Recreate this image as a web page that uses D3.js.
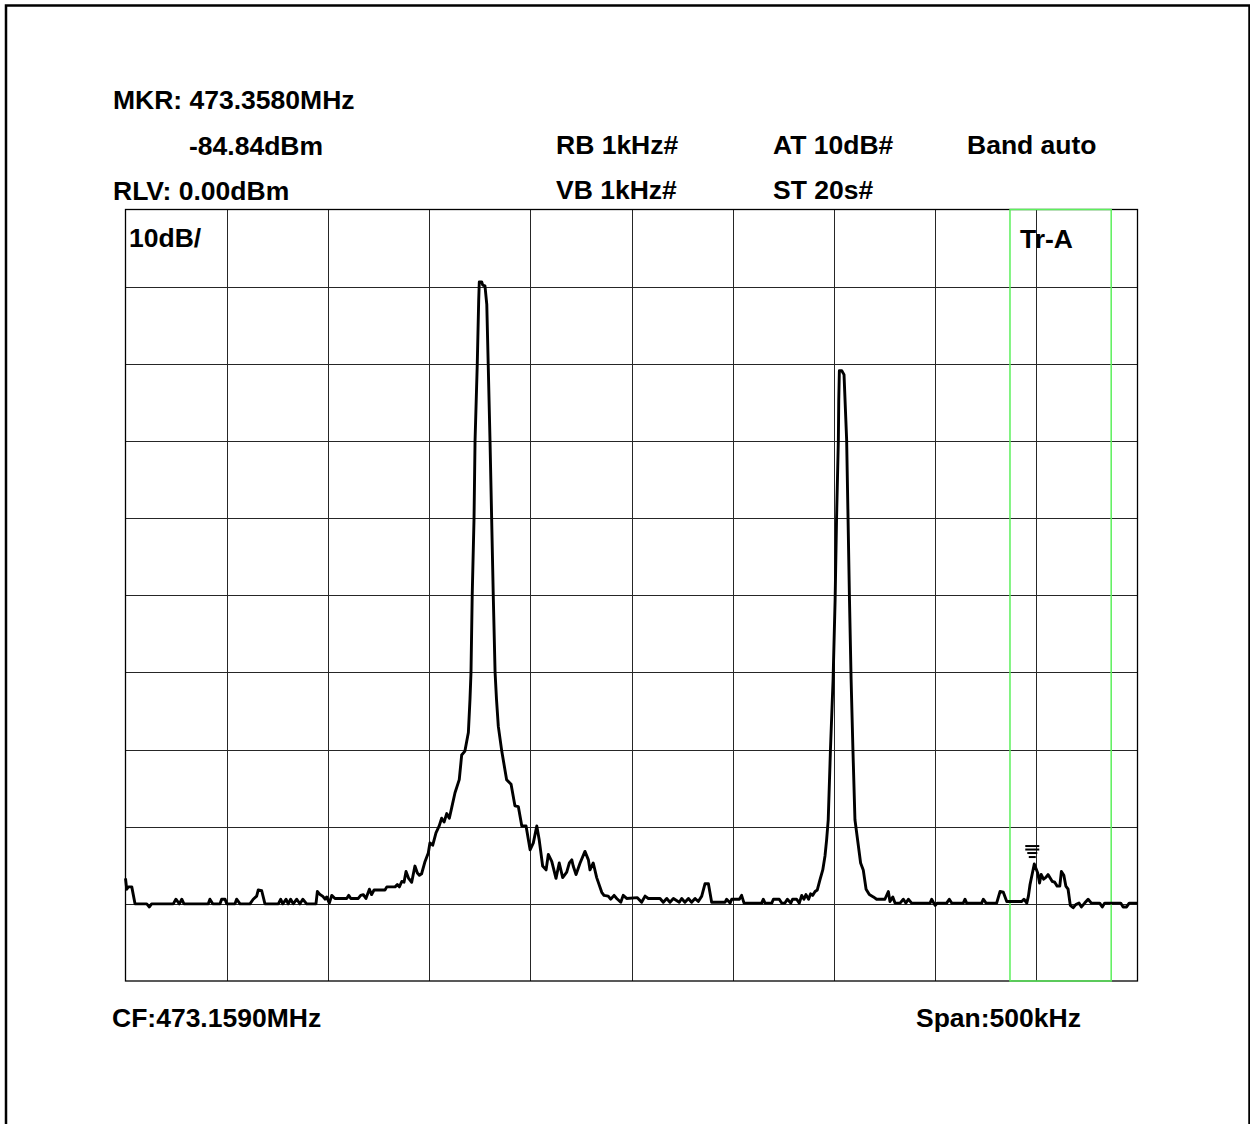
<!DOCTYPE html>
<html>
<head>
<meta charset="utf-8">
<script src="https://cdn.jsdelivr.net/npm/d3@7"></script>
<style>
  html, body { margin: 0; padding: 0; background: #fff; }
  svg { display: block; }
  text { font-family: "Liberation Sans", Arial, Helvetica, sans-serif; font-weight: bold; font-size: 26.5px; fill: #000; }
</style>
</head>
<body>
<svg id="chart" width="1250" height="1124"></svg>
<script>
// Sweep settings
const centerMHz = 473.159;
const spanKHz = 500;
const refLevelDbm = 0;
const dbPerDiv = 10;
const xDivisions = 10;
const yDivisions = 10;

// Marker readout
const markerMHz = 473.3580;
const markerDbm = -84.84;

// Band window (kHz from sweep start)
const bandKHz = [437, 487];

// Header / footer labels
const headerLeft = ["MKR: 473.3580MHz", "-84.84dBm", "RLV: 0.00dBm"];
const headerMid = ["RB 1kHz#", "VB 1kHz#"];
const headerRight = ["AT 10dB#", "ST 20s#"];
const bandLabel = "Band auto";
const scaleLabel = "10dB/";
const traceLabel = "Tr-A";
const footerLeft = "CF:473.1590MHz";
const footerRight = "Span:500kHz";

// Trace A vertices: frequency (kHz from sweep start) and level (dBm)
const traceKHz = [
  0, 0.6, 1.4, 3.1, 4.7, 10.5, 11.8, 12.9, 23.6, 24.9, 26.6, 27.8, 28.9, 40.9, 41.7, 43.1,
  46.7, 47.5, 49.2, 50, 54.1, 54.9, 56.6, 61.5, 63.1, 64.8, 65.6, 67.3, 68.9, 75.5, 76.7, 77.7,
  79.3, 80.4, 81.6, 82.9, 84.6, 86.2, 87.6, 89.5, 94.1, 94.8, 96.1, 97.4, 98.6, 99.4, 100.7, 101.9,
  103.5, 109.3, 110.3, 111.3, 115, 116.2, 117.5, 118.8, 120.5, 121.6, 122.8, 128.2, 129.1, 133.2,
  134.3, 135.3, 136.5, 137.6, 138.6, 139.9, 141.4, 143, 144.2, 145.2, 146.3, 148, 149.6, 150.4,
  151.8, 153.4, 155, 156.2, 157.4, 158.7, 160, 161.2, 162.8, 164.9, 166.1, 167.7, 169.4, 170.2,
  170.7, 171.3, 172.2, 172.7, 173.8, 174.5, 174.8, 176, 176.5, 177.6, 178.5, 179.2, 180.1, 180.9,
  181.7, 182.6, 183.3, 184.2, 185.9, 188.3, 190.5, 192.4, 194.1, 195.8, 197.9, 199.9, 201.5, 203.2,
  204.4, 206.1, 207.8, 208.9, 210.6, 212.7, 214.3, 216, 218, 219.3, 220.5, 221.2, 222.6, 224.6,
  227, 228.7, 229.5, 231.1, 232.8, 235.3, 236.4, 238.5, 239.7, 241.4, 242.7, 244.7, 245.9, 247.6,
  252.9, 255, 256.7, 258.3, 264.1, 265.7, 267.4, 269, 270.7, 273.6, 274.8, 276.4, 278.1, 279.7,
  281.4, 283, 284.7, 286.3, 288, 289.6, 296.2, 297, 298.7, 299.5, 303.3, 304.4, 305.6, 314.3,
  315.1, 316, 319.3, 320.1, 323, 324.2, 325.8, 327, 328.7, 329.6, 331.6, 332.9, 334.1, 335.2,
  336.2, 337.5, 338.5, 339.5, 340.7, 341.8, 343.1, 344.5, 345.6, 346.4, 347.2, 348.3, 349.6, 350.6,
  351.3, 352.2, 352.4, 352.7, 353.9, 355, 356.3, 357, 357.7, 358.5, 359.4, 360.4, 362.1, 363.2,
  364.5, 365.9, 367.5, 369.5, 371.1, 375.2, 376.9, 377.7, 379.1, 380.2, 382.7, 384.3, 385.6, 386.8,
  388.4, 397.5, 398.3, 400, 401.1, 405.7, 407, 408.2, 413.9, 414.8, 415.6, 423, 423.8, 425.2,
  430.4, 432.1, 433.7, 435.4, 437, 442.8, 443.9, 445.3, 446.1, 446.9, 449, 450.7, 451.6, 452.4,
  453.6, 454.6, 455.8, 457.9, 459.1, 460.3, 461.6, 462.4, 463.6, 464.6, 465.7, 466.8, 468.2, 469.5,
  471.1, 472.3, 473.9, 475.6, 477.2, 481.3, 482.6, 483.8, 491.7, 492.9, 494.6, 495.9, 500
];
const traceDbm = [
  -86.7, -88.1, -87.8, -87.8, -90, -90, -90.4, -90, -90, -89.4, -90, -89.4, -90, -90, -89.4, -90,
  -90, -89.4, -89.4, -90, -90, -89.4, -90, -90, -89.4, -89, -88.2, -88.3, -90, -90, -89.4, -90,
  -89.4, -90, -89.4, -90, -89.4, -90, -89.4, -90, -90, -88.4, -88.8, -89, -89.4, -89.1, -89.9, -88.9,
  -89.3, -89.3, -88.9, -89.3, -89.3, -88.9, -88.8, -89.3, -88.1, -88.8, -88.2, -88.2, -87.8, -87.8,
  -87.5, -87.8, -87.1, -87.2, -85.8, -86.7, -87.2, -85.1, -86, -86.3, -86.1, -84.5, -83.4, -82.1,
  -82.4, -80.8, -79.9, -78.9, -79.4, -78.3, -78.9, -77.5, -75.6, -73.9, -70.7, -70.2, -67.8, -63.5,
  -60, -50, -40, -30, -20, -11.8, -9.4, -9.4, -9.8, -9.9, -12.3, -20, -30, -40,
  -50, -60, -63.5, -67, -70.2, -73.9, -74.5, -77.3, -77.4, -79.9, -79.9, -83, -82.1, -79.9,
  -81.7, -85.1, -85.6, -83.6, -84.5, -86.7, -84.7, -86.6, -85.9, -84.7, -84.3, -85.1, -86.2, -84.7,
  -83.2, -84.3, -85.6, -84.7, -86.6, -88.5, -88.9, -89, -89.4, -88.9, -89.3, -89.8, -88.9, -89.3,
  -89.2, -89.8, -89, -89.3, -89.3, -89.8, -89.3, -89.8, -89.3, -89.8, -89.3, -89.8, -89.3, -89.8,
  -89.3, -89.7, -89, -87.4, -87.4, -89.8, -89.8, -89.4, -89.9, -89.4, -89.4, -88.9, -89.9, -89.9,
  -89.4, -89.9, -89.9, -89.4, -89.4, -89.9, -89.9, -89.4, -89.9, -89.4, -89.4, -89.9, -88.9, -89.4,
  -88.8, -89.4, -88.7, -88.9, -88.4, -88.2, -86.9, -85.6, -83.8, -81.7, -79.1, -70, -60.9, -50.6,
  -40.2, -29.9, -24.7, -20.9, -20.9, -21.4, -29.9, -40.2, -50.6, -60.9, -70, -79.1, -82.5, -84.7,
  -85.6, -88.1, -88.8, -89.1, -89.4, -89.4, -88.4, -89.7, -89.1, -89.9, -89.9, -89.4, -89.9, -89.4,
  -89.9, -89.9, -89.4, -90.2, -89.9, -89.9, -89.4, -89.9, -89.9, -89.4, -89.9, -89.9, -89.4, -89.9,
  -89.9, -88.4, -88.5, -89.7, -89.7, -89.7, -89.4, -89.9, -89, -87.5, -84.84, -86, -87.3, -86.2,
  -86.8, -86.6, -86.2, -87.1, -87.2, -87.7, -87.7, -85.8, -86.3, -87.7, -88.1, -90.2, -90.5, -90.1,
  -89.9, -90.4, -89.9, -89.4, -89.9, -89.9, -90.4, -89.9, -89.9, -90.4, -90.4, -89.9, -89.9
];

const svg = d3.select("#chart");

// Plot area
const plot = { left: 125.5, right: 1137.5, top: 209.5, bottom: 981 };

const startMHz = centerMHz - spanKHz / 2000;
const x = d3.scaleLinear().domain([0, spanKHz]).range([plot.left, plot.right]);
const y = d3.scaleLinear()
  .domain([refLevelDbm - dbPerDiv * yDivisions, refLevelDbm])
  .range([plot.bottom, plot.top]);

// Outer page frame
svg.append("path")
  .attr("d", "M6,1124V5.5H1249.5V1124")
  .attr("fill", "none")
  .attr("stroke", "#000")
  .attr("stroke-width", 2.5);

// Graticule
const xGrid = d3.range(1, xDivisions).map(i => i * spanKHz / xDivisions);
const yGrid = d3.range(1, yDivisions).map(i => refLevelDbm - i * dbPerDiv);

const grid = svg.append("g").attr("stroke", "#262626").attr("stroke-width", 1).attr("shape-rendering", "crispEdges");
grid.selectAll("line.v").data(xGrid).join("line")
  .attr("class", "v")
  .attr("x1", d => Math.round(x(d)) + 0.5).attr("x2", d => Math.round(x(d)) + 0.5)
  .attr("y1", plot.top).attr("y2", plot.bottom);
grid.selectAll("line.h").data(yGrid).join("line")
  .attr("class", "h")
  .attr("y1", d => Math.round(y(d)) + 0.5).attr("y2", d => Math.round(y(d)) + 0.5)
  .attr("x1", plot.left).attr("x2", plot.right);

svg.append("rect")
  .attr("x", plot.left).attr("y", plot.top)
  .attr("width", plot.right - plot.left).attr("height", plot.bottom - plot.top)
  .attr("fill", "none").attr("stroke", "#000").attr("stroke-width", 1.3);

// Band window
svg.append("rect")
  .attr("x", x(bandKHz[0])).attr("y", plot.top)
  .attr("width", x(bandKHz[1]) - x(bandKHz[0])).attr("height", plot.bottom - plot.top)
  .attr("fill", "none").attr("stroke", "#5cf05c").attr("stroke-width", 1.5);

// Trace A
const points = traceKHz.map((f, i) => [f, traceDbm[i]]);
svg.append("path")
  .datum(points)
  .attr("fill", "none")
  .attr("stroke", "#000")
  .attr("stroke-width", 2.9)
  .attr("stroke-linejoin", "round")
  .attr("d", d3.line().x(d => x(d[0])).y(d => y(d[1])));

// Marker glyph above the marked point
const mx = x((markerMHz - startMHz) * 1000);
const my = y(markerDbm);
const bars = [[-18, 14], [-14.5, 14], [-11, 10], [-7, 7]];
svg.append("g").selectAll("line").data(bars).join("line")
  .attr("x1", d => mx - 2 - d[1] / 2).attr("x2", d => mx - 2 + d[1] / 2)
  .attr("y1", d => my + d[0]).attr("y2", d => my + d[0])
  .attr("stroke", "#000").attr("stroke-width", 2);

// Labels
const text = (s, tx, ty) => svg.append("text").attr("x", tx).attr("y", ty).text(s);
text(headerLeft[0], 113, 109);
text(headerLeft[1], 189, 155);
text(headerLeft[2], 113, 200);
text(headerMid[0], 556, 154);
text(headerMid[1], 556, 199);
text(headerRight[0], 773, 154);
text(headerRight[1], 773, 199);
text(bandLabel, 967, 154);
text(scaleLabel, 129, 247);
text(traceLabel, 1020, 248);
text(footerLeft, 112, 1027);
text(footerRight, 916, 1027);
</script>
</body>
</html>
